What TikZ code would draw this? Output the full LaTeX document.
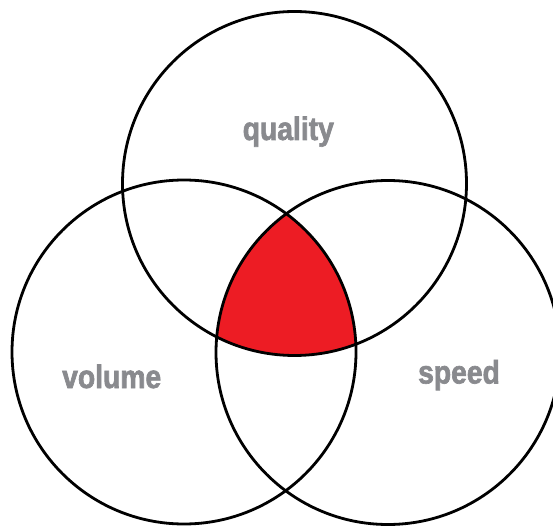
\documentclass[tikz,border=0pt]{standalone}
\usepackage{fontspec}
\newfontfamily\lblfont{Liberation Sans Bold}[FakeStretch=0.87,FakeBold=2]
\definecolor{vred}{HTML}{ED1C24}
\definecolor{lblgray}{RGB}{137,138,142}
\tikzset{
  venn/.style={circle, draw=black, line width=2.8pt, minimum size=344pt, inner sep=0pt, outer sep=0pt},
  lbl/.style={anchor=base, text=lblgray, inner sep=0pt, font=\lblfont\fontsize{32.5}{32.5}\selectfont}
}
\begin{document}
\begin{tikzpicture}[x=1pt, y=-1pt]
\useasboundingbox (0,0) rectangle (553,526);
\coordinate (Tc) at (294.5,183.5);
\coordinate (Lc) at (184,352);
\coordinate (Rc) at (388,352.5);
\begin{scope}
  \clip (Lc) circle[radius=172pt];
  \clip (Rc) circle[radius=172pt];
  \fill[vred] (Tc) circle[radius=172pt];
\end{scope}
\node[venn] (quality) at (Tc) {};
\node[venn] (volume) at (Lc) {};
\node[venn] (speed) at (Rc) {};
\node[lbl] (tq) at (288.3,140) {quality};
\node[lbl] (tv) at (111.7,388) {volume};
\node[lbl] (ts) at (459,383.5) {speed};
\end{tikzpicture}
\end{document}
